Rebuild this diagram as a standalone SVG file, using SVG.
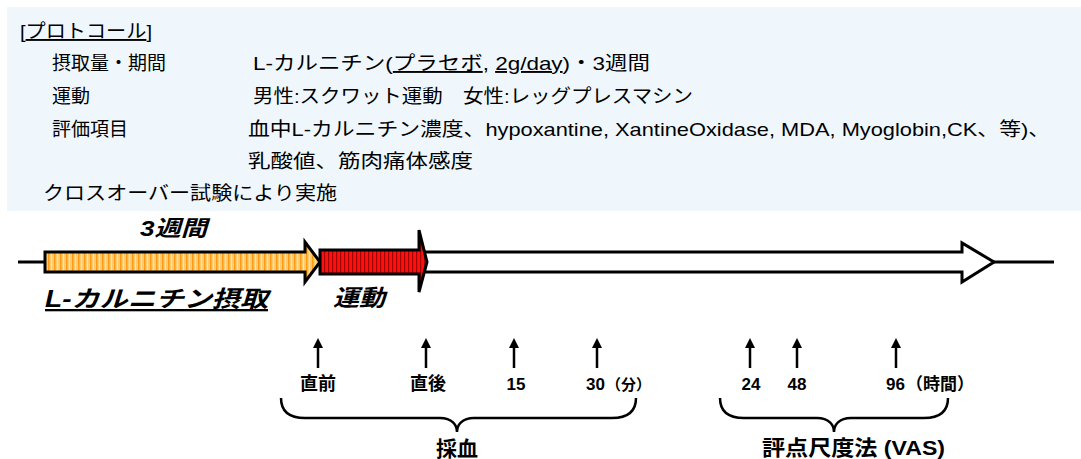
<svg xmlns="http://www.w3.org/2000/svg" width="1081" height="459" viewBox="0 0 1081 459">
<style>
.t{font-family:"Liberation Sans","Noto Sans CJK JP",sans-serif;font-size:19px;fill:#000}
.b{font-family:"Liberation Sans","Noto Sans CJK JP",sans-serif;font-weight:bold;fill:#000}
.bi{font-family:"Liberation Sans","Noto Sans CJK JP",sans-serif;font-weight:bold;font-style:italic;fill:#000}
.ln{stroke:#000;stroke-width:3;fill:none}
.br{stroke:#000;stroke-width:2.5;fill:none}
.up{stroke:#000;stroke-width:2.5;fill:none}
</style>
<defs>
<pattern id="orng" width="6" height="10" patternUnits="userSpaceOnUse">
<rect width="6" height="10" fill="#ffca70"/>
<rect x="0" width="1.5" height="10" fill="#ff9a10"/>
<rect x="3" width="1" height="10" fill="#ffe2b0"/>
</pattern>
<pattern id="redp" width="4" height="10" patternUnits="userSpaceOnUse">
<rect width="4" height="10" fill="#ff1010"/>
<rect x="0" width="1.2" height="10" fill="#a00000"/>
</pattern>
<marker id="ah" viewBox="0 0 10 10" refX="5" refY="5" markerWidth="4" markerHeight="4" orient="auto">
<path d="M0,0 L10,5 L0,10 z" fill="#000"/>
</marker>
</defs>

<g id="protocol-box">
<rect x="7" y="7" width="1074" height="204" fill="#eff7fd"/>
<text class="t" x="20" y="38" textLength="132" lengthAdjust="spacingAndGlyphs">[<tspan text-decoration="underline">プロトコール</tspan>]</text>
<text class="t" x="52" y="70">摂取量・期間</text>
<text class="t" x="253" y="70" textLength="397" lengthAdjust="spacingAndGlyphs">L-カルニチン(<tspan text-decoration="underline">プラセボ</tspan>, <tspan text-decoration="underline">2g/day</tspan>)・3週間</text>
<text class="t" x="52" y="103">運動</text>
<text class="t" x="253" y="103" textLength="440" lengthAdjust="spacingAndGlyphs">男性:スクワット運動　女性:レッグプレスマシン</text>
<text class="t" x="52" y="136">評価項目</text>
<text class="t" x="248" y="136" textLength="802" lengthAdjust="spacingAndGlyphs">血中L-カルニチン濃度、hypoxantine, XantineOxidase, MDA, Myoglobin,CK、等)、</text>
<text class="t" x="248" y="168" textLength="225" lengthAdjust="spacingAndGlyphs">乳酸値、筋肉痛体感度</text>
<text class="t" x="43" y="200" textLength="294" lengthAdjust="spacingAndGlyphs">クロスオーバー試験により実施</text>
</g>

<g id="timeline">
<line class="ln" x1="18" y1="262" x2="46" y2="262"/>
<line class="ln" x1="993" y1="262" x2="1054" y2="262"/>
<path class="ln" d="M320,252 L962,252 L962,243 L994,262 L962,282 L962,272 L320,272" style="fill:#fff"/>
</g>

<g id="carnitine-intake">
<path d="M45,252 L305,252 L305,242 L320,262 L305,282 L305,272 L45,272 Z" fill="url(#orng)" stroke="#000" stroke-width="3" stroke-linejoin="miter"/>
<text class="bi" x="140" y="236" font-size="22" textLength="67" lengthAdjust="spacingAndGlyphs">3週間</text>
<text class="bi" x="45" y="307" font-size="23" textLength="223" lengthAdjust="spacingAndGlyphs" text-decoration="underline">L-カルニチン摂取</text>
</g>

<g id="exercise">
<path d="M320,250 L419,250 L419,230 L427,262 L419,292 L419,274 L320,274 Z" fill="url(#redp)" stroke="#000" stroke-width="3" stroke-linejoin="miter"/>
<text class="bi" x="333" y="306" font-size="23" textLength="52" lengthAdjust="spacingAndGlyphs">運動</text>
</g>

<g id="connectors">
<line class="up" x1="318" y1="368" x2="318" y2="343" marker-end="url(#ah)"/>
<line class="up" x1="426" y1="368" x2="426" y2="343" marker-end="url(#ah)"/>
<line class="up" x1="514" y1="368" x2="514" y2="343" marker-end="url(#ah)"/>
<line class="up" x1="597" y1="368" x2="597" y2="343" marker-end="url(#ah)"/>
<line class="up" x1="750" y1="368" x2="750" y2="343" marker-end="url(#ah)"/>
<line class="up" x1="797" y1="368" x2="797" y2="343" marker-end="url(#ah)"/>
<line class="up" x1="896" y1="368" x2="896" y2="343" marker-end="url(#ah)"/>
<path class="br" d="M281,398 C281,412 290,418 305,418 L440,418 C452,418 457,425 457,432 C457,425 462,418 474,418 L612,418 C627,418 636,412 636,398"/>
<path class="br" d="M720,398 C720,412 729,418 744,418 L817,418 C829,418 834,425 834,432 C834,425 839,418 851,418 L924,418 C939,418 948,412 948,398"/>
</g>

<g id="blood-sampling">
<text class="b" x="318" y="390" font-size="18" text-anchor="middle">直前</text>
<text class="b" x="428" y="390" font-size="18" text-anchor="middle">直後</text>
<text class="b" x="516" y="390" font-size="17" text-anchor="middle">15</text>
<text class="b" font-size="17" y="390"><tspan x="586">30</tspan><tspan x="606" font-size="15">（分）</tspan></text>
<text class="b" x="457" y="456" font-size="21" text-anchor="middle">採血</text>
</g>

<g id="vas">
<text class="b" x="751" y="390" font-size="17" text-anchor="middle">24</text>
<text class="b" x="797" y="390" font-size="17" text-anchor="middle">48</text>
<text class="b" font-size="17" y="390"><tspan x="886">96</tspan><tspan x="906">（時間）</tspan></text>
<text class="b" x="762" y="455" font-size="21" textLength="183" lengthAdjust="spacingAndGlyphs">評点尺度法 (VAS)</text>
</g>
</svg>
